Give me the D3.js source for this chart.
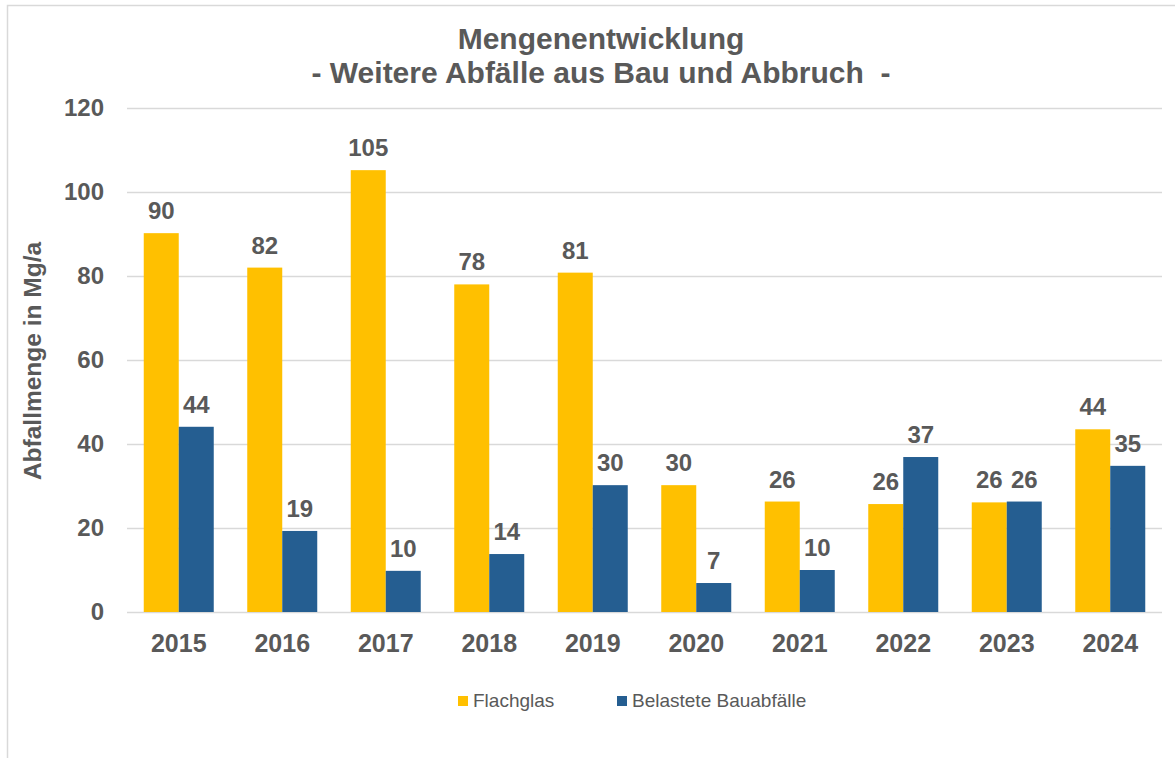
<!DOCTYPE html>
<html>
<head>
<meta charset="utf-8">
<script src="https://cdn.jsdelivr.net/npm/d3@7"></script>
<style>
  html, body { margin: 0; padding: 0; background: #fff; }
  svg { display: block; font-family: "Liberation Sans", Arial, sans-serif; }
</style>
</head>
<body>
<svg id="chart" width="1175" height="758"></svg>
<script>
const years = ["2015","2016","2017","2018","2019","2020","2021","2022","2023","2024"];
const flachglas = [90.2, 82, 105.2, 78, 80.8, 30.2, 26.3, 25.7, 26.1, 43.5];
const belastete = [44.1, 19.3, 9.8, 13.8, 30.2, 6.9, 10, 36.9, 26.3, 34.8];
const seriesNames = ["Flachglas", "Belastete Bauabfälle"];
const yTicks = [0, 20, 40, 60, 80, 100, 120];
const titleLines = ["Mengenentwicklung", "- Weitere Abfälle aus Bau und Abbruch  -"];
const yTitle = "Abfallmenge in Mg/a";

const colors = ["#FFC000", "#255E91"];
const textColor = "#595959";
const gridColor = "#D9D9D9";

const svg = d3.select("#chart");
const W = 1175, H = 758;

// outer chart border
svg.append("rect")
  .attr("x", 7.5).attr("y", 5.5)
  .attr("width", W).attr("height", H)
  .attr("fill", "#fff").attr("stroke", "#D9D9D9").attr("stroke-width", 1.5);

const plot = { left: 127, right: 1162, top: 108, bottom: 612 };

const x = d3.scaleBand().domain(years)
  .range([plot.left, plot.right])
  .paddingInner(0.3237).paddingOuter(0.1618);
const x1 = d3.scaleBand().domain([0, 1]).range([0, x.bandwidth()]);
const y = d3.scaleLinear().domain([0, 120]).range([plot.bottom, plot.top]);

// gridlines
const yAxis = d3.axisLeft(y).tickValues(yTicks).tickSize(-(plot.right - plot.left)).tickPadding(23);
const gy = svg.append("g").attr("transform", `translate(${plot.left},0)`).call(yAxis);
gy.select(".domain").remove();
gy.selectAll(".tick line").attr("stroke", gridColor).attr("stroke-width", 1.3);
gy.selectAll(".tick text")
  .attr("fill", textColor).attr("font-size", 24).attr("font-weight", "bold")
  .attr("font-family", "Liberation Sans, Arial, sans-serif");

// x axis labels
const xAxis = d3.axisBottom(x).tickSize(0).tickPadding(22);
const gx = svg.append("g").attr("transform", `translate(0,${plot.bottom})`).call(xAxis);
gx.select(".domain").remove();
gx.selectAll(".tick text")
  .attr("fill", textColor).attr("font-size", 25).attr("font-weight", "bold")
  .attr("font-family", "Liberation Sans, Arial, sans-serif");

// bars
const data = years.map((yr, i) => ({ yr, vals: [flachglas[i], belastete[i]] }));
const groups = svg.append("g").selectAll("g").data(data).join("g")
  .attr("transform", d => `translate(${x(d.yr)},0)`);

groups.selectAll("rect").data(d => d.vals.map((v, k) => ({ v, k }))).join("rect")
  .attr("x", d => x1(d.k))
  .attr("width", x1.bandwidth())
  .attr("y", d => y(d.v))
  .attr("height", d => y(0) - y(d.v))
  .attr("fill", d => colors[d.k]);

groups.selectAll("text").data(d => d.vals.map((v, k) => ({ v, k }))).join("text")
  .attr("x", d => x1(d.k) + x1.bandwidth() / 2)
  .attr("y", d => y(d.v) - 14)
  .attr("text-anchor", "middle")
  .attr("fill", textColor).attr("font-size", 24).attr("font-weight", "bold")
  .text(d => Math.round(d.v));

// title
svg.append("text")
  .attr("x", 601).attr("y", 49)
  .attr("text-anchor", "middle")
  .attr("fill", textColor).attr("font-size", 30).attr("font-weight", "bold")
  .text(titleLines[0]);
svg.append("text")
  .attr("x", 601).attr("y", 83)
  .attr("text-anchor", "middle")
  .attr("fill", textColor).attr("font-size", 30).attr("font-weight", "bold")
  .style("white-space", "pre")
  .attr("xml:space", "preserve")
  .text(titleLines[1]);

// y axis title
svg.append("text")
  .attr("transform", `translate(41,361) rotate(-90)`)
  .attr("text-anchor", "middle")
  .attr("fill", textColor).attr("font-size", 24.5).attr("font-weight", "bold")
  .text(yTitle);

// legend
const legendX = [458, 617];
const lg = svg.append("g");
seriesNames.forEach((name, i) => {
  lg.append("rect")
    .attr("x", legendX[i]).attr("y", 696)
    .attr("width", 10).attr("height", 10)
    .attr("fill", colors[i]);
  lg.append("text")
    .attr("x", legendX[i] + 15).attr("y", 707)
    .attr("fill", textColor).attr("font-size", 19)
    .text(name);
});
</script>
</body>
</html>
